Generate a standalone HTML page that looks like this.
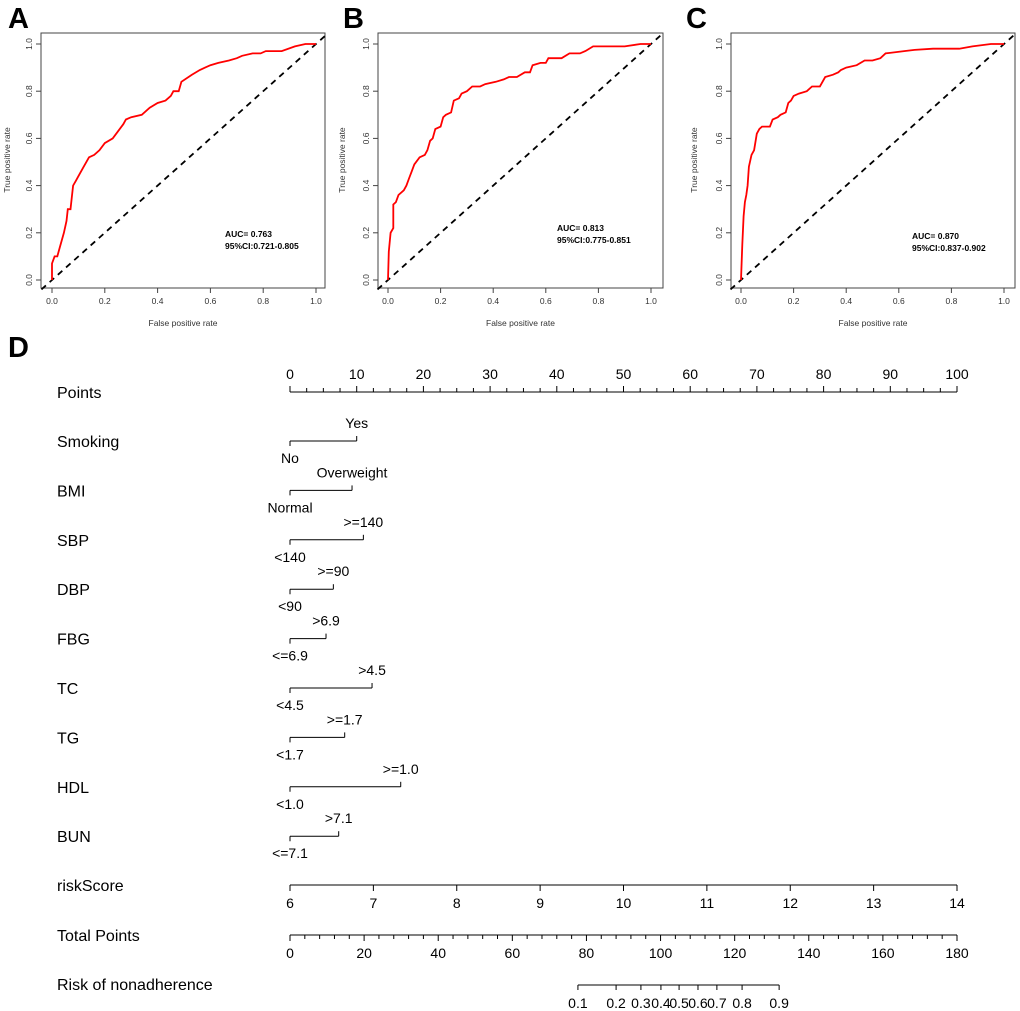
<!DOCTYPE html>
<html><head><meta charset="utf-8"><style>
body{margin:0;background:#fff;}
svg{display:block;font-family:"Liberation Sans",Arial,sans-serif;}
</style></head><body>
<svg id="s" width="1020" height="1011" viewBox="0 0 1020 1011"></svg>
<script>
const rocA_fpr=[0,0,0.01,0.02,0.03,0.045,0.055,0.06,0.07,0.075,0.08,0.09,0.1,0.12,0.14,0.16,0.18,0.2,0.23,0.25,0.27,0.28,0.3,0.34,0.37,0.4,0.43,0.45,0.46,0.48,0.49,0.53,0.56,0.58,0.6,0.63,0.67,0.7,0.72,0.76,0.79,0.81,0.87,0.92,0.96,1];
const rocA_tpr=[0,0.07,0.1,0.1,0.14,0.2,0.25,0.3,0.3,0.35,0.4,0.42,0.44,0.48,0.52,0.53,0.55,0.58,0.6,0.63,0.66,0.68,0.69,0.7,0.73,0.75,0.76,0.78,0.8,0.8,0.84,0.87,0.89,0.9,0.91,0.92,0.93,0.94,0.95,0.96,0.96,0.97,0.97,0.99,1,1];
const rocB_fpr=[0,0.003,0.01,0.02,0.02,0.03,0.04,0.06,0.07,0.08,0.09,0.1,0.12,0.14,0.15,0.16,0.17,0.18,0.2,0.21,0.22,0.24,0.25,0.27,0.28,0.3,0.32,0.35,0.37,0.41,0.44,0.46,0.49,0.52,0.54,0.55,0.58,0.6,0.61,0.66,0.69,0.73,0.75,0.78,0.9,0.96,1];
const rocB_tpr=[0,0.12,0.2,0.22,0.32,0.33,0.36,0.38,0.4,0.43,0.46,0.49,0.52,0.53,0.55,0.59,0.6,0.64,0.65,0.69,0.7,0.71,0.76,0.77,0.79,0.8,0.82,0.82,0.83,0.84,0.85,0.86,0.86,0.88,0.88,0.91,0.92,0.92,0.94,0.94,0.96,0.96,0.97,0.99,0.99,1,1];
const rocC_fpr=[0,0.005,0.01,0.015,0.02,0.025,0.03,0.04,0.05,0.06,0.07,0.08,0.11,0.12,0.14,0.15,0.17,0.18,0.19,0.2,0.22,0.25,0.27,0.3,0.32,0.35,0.37,0.38,0.4,0.44,0.47,0.5,0.53,0.55,0.62,0.66,0.73,0.83,0.88,0.95,1];
const rocC_tpr=[0,0.15,0.27,0.33,0.36,0.4,0.48,0.53,0.55,0.62,0.64,0.65,0.65,0.68,0.69,0.7,0.71,0.75,0.76,0.78,0.79,0.8,0.82,0.82,0.86,0.87,0.88,0.89,0.9,0.91,0.93,0.93,0.94,0.96,0.97,0.975,0.98,0.98,0.99,1,1];
const rocTicks=["0.0","0.2","0.4","0.6","0.8","1.0"];
const aucLabels=["AUC= 0.763","AUC= 0.813","AUC= 0.870"];
const ciLabels=["95%CI:0.721-0.805","95%CI:0.775-0.851","95%CI:0.837-0.902"];

const NS="http://www.w3.org/2000/svg";
const svg=document.getElementById('s');
function el(t,a,p){const e=document.createElementNS(NS,t);for(const k in a)e.setAttribute(k,a[k]);(p||svg).appendChild(e);return e;}
function txt(x,y,s,a,p){const e=el('text',Object.assign({x:x,y:y},a||{}),p);e.textContent=s;return e;}

const panels=[
 {L:'A',lx:8,bx0:41,bx1:325,d0:52,d1:316,ylab:10,fpr:rocA_fpr,tpr:rocA_tpr,ax:225,ay:237},
 {L:'B',lx:343,bx0:378,bx1:663,d0:388,d1:651,ylab:345,fpr:rocB_fpr,tpr:rocB_tpr,ax:557,ay:231},
 {L:'C',lx:686,bx0:731,bx1:1015,d0:741,d1:1004,ylab:697,fpr:rocC_fpr,tpr:rocC_tpr,ax:912,ay:239}];
panels.forEach((P,i)=>{
 const g=el('g',{});
 
 
 const X=v=>P.d0+v*(P.d1-P.d0), Y=v=>280-v*236;
 const lt=txt(P.lx,28,P.L,{'font-size':29,'font-weight':'bold'},g);
 
 const box=el('rect',{x:P.bx0,y:33,width:P.bx1-P.bx0,height:255,fill:'none',stroke:'#444','stroke-width':1},g);
 
 rocTicks.forEach((t,k)=>{const v=k*0.2;
  el('line',{x1:X(v),x2:X(v),y1:288,y2:293,stroke:'#444'},g);
  const xt=txt(X(v),304,t,{'font-size':8.5,'text-anchor':'middle',fill:'#333'},g);
  
  el('line',{x1:P.bx0,x2:P.bx0-5,y1:Y(v),y2:Y(v),stroke:'#444'},g);
  const yt=txt(P.bx0-9,Y(v),t,{'font-size':8.5,'text-anchor':'middle',fill:'#333',transform:`rotate(-90 ${P.bx0-9} ${Y(v)})`},g);
  });
 el('line',{x1:X(0),x2:X(1),y1:288,y2:288,stroke:'#444'},g);
 const xl=txt((P.bx0+P.bx1)/2,326,'False positive rate',{'font-size':8.5,'text-anchor':'middle',fill:'#333'},g);
 
 const yl=txt(P.ylab,160,'True positive rate',{'font-size':8.5,'text-anchor':'middle',fill:'#333',transform:`rotate(-90 ${P.ylab} 160)`},g);
 
 const dg=el('line',{x1:X(-0.04),y1:Y(-0.04),x2:X(1.04),y2:Y(1.04),stroke:'#000','stroke-width':1.8,'stroke-dasharray':'6,5'},g);
 
 let d='';P.fpr.forEach((f,k)=>{d+=(k?'L':'M')+X(f).toFixed(1)+','+Y(P.tpr[k]).toFixed(1);});
 const c=el('path',{d:d,fill:'none',stroke:'#f00','stroke-width':1.8},g);
 
 const a=txt(P.ax,P.ay,aucLabels[i],{'font-size':8.5,'font-weight':'bold'},g);
 
 const ci=txt(P.ax,P.ay+12,ciLabels[i],{'font-size':8.5,'font-weight':'bold'},g);
 
});

// Nomogram
const varNames=["Smoking","BMI","SBP","DBP","FBG","TC","TG","HDL","BUN"];
const varPoints=[10,9.3,11,6.5,5.4,12.3,8.2,16.6,7.3];
const lowLabels=["No","Normal","<140","<90","<=6.9","<4.5","<1.7","<1.0","<=7.1"];
const highLabels=["Yes","Overweight",">=140",">=90",">6.9",">4.5",">=1.7",">=1.0",">7.1"];
const riskScoreTicks=[6,7,8,9,10,11,12,13,14];
const riskProbs=[0.1,0.2,0.3,0.4,0.5,0.6,0.7,0.8,0.9];
const riskProbPoints=[77.7,88,94.7,100.1,105,110.1,115.2,122,132];

const P0=290,P1=957;
const PX=p=>P0+p/100*(P1-P0);
const TX=p=>P0+p/180*(P1-P0);
const RX=s=>P0+(s-6)/8*(P1-P0);
const ng=el('g',{});

const dl=txt(8,357,'D',{'font-size':29,'font-weight':'bold'},ng);

function rowLabel(y,s){const t=txt(57,y+6,s,{'font-size':16},ng);
 }
const S={stroke:'#000','stroke-width':1};
rowLabel(392,'Points');
el('line',Object.assign({x1:P0,x2:P1,y1:392,y2:392},S),ng);
for(let p=0;p<=100;p+=2.5){el('line',Object.assign({x1:PX(p),x2:PX(p),y1:392,y2:p%10===0?386:388},S),ng);}
for(let p=0;p<=100;p+=10){const t=txt(PX(p),379,String(p),{'font-size':14,'text-anchor':'middle'},ng);
 }
varNames.forEach((n,i)=>{const y=441+i*49.4;rowLabel(y,n);
 const x1=PX(varPoints[i]);
 const ln=el('line',Object.assign({x1:P0,x2:x1,y1:y,y2:y},S),ng);
 
 el('line',Object.assign({x1:P0,x2:P0,y1:y,y2:y+5},S),ng);
 el('line',Object.assign({x1:x1,x2:x1,y1:y,y2:y-5},S),ng);
 const h=txt(x1,y-13,highLabels[i],{'font-size':14,'text-anchor':'middle'},ng);
 
 const l=txt(P0,y+22,lowLabels[i],{'font-size':14,'text-anchor':'middle'},ng);
 });
rowLabel(885,'riskScore');
el('line',Object.assign({x1:P0,x2:P1,y1:885,y2:885},S),ng);
riskScoreTicks.forEach(s=>{el('line',Object.assign({x1:RX(s),x2:RX(s),y1:885,y2:891},S),ng);
 const t=txt(RX(s),908,String(s),{'font-size':14,'text-anchor':'middle'},ng);
 });
rowLabel(935,'Total Points');
el('line',Object.assign({x1:P0,x2:P1,y1:935,y2:935},S),ng);
for(let p=0;p<=180;p+=4){el('line',Object.assign({x1:TX(p),x2:TX(p),y1:935,y2:p%20===0?941:939},S),ng);}
for(let p=0;p<=180;p+=20){const t=txt(TX(p),958,String(p),{'font-size':14,'text-anchor':'middle'},ng);
 }
rowLabel(984,'Risk of nonadherence');
const rx0=TX(riskProbPoints[0]),rx1=TX(riskProbPoints[riskProbPoints.length-1]);
el('line',Object.assign({x1:rx0,x2:rx1,y1:985,y2:985},S),ng);
riskProbs.forEach((r,k)=>{const x=TX(riskProbPoints[k]);
 el('line',Object.assign({x1:x,x2:x,y1:985,y2:990},S),ng);
 const t=txt(x,1008,String(r),{'font-size':14,'text-anchor':'middle'},ng);
 });
</script>
</body></html>
